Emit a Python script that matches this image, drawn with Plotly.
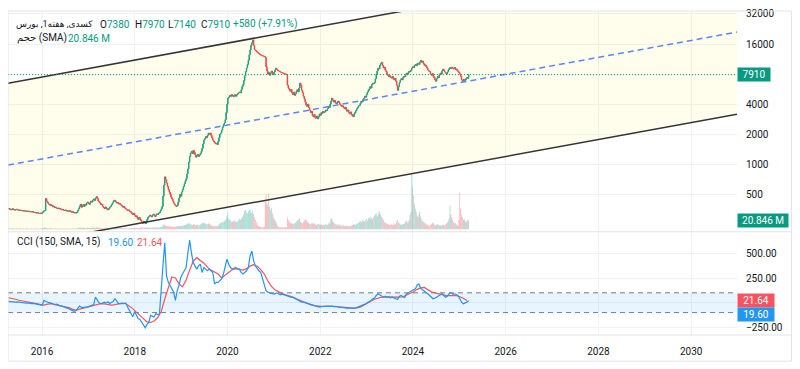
import math
import pandas as pd
import plotly.graph_objects as go

# ---------------- data ----------------
start_date = "2015-04-11"   # first weekly candle

close = [
    362, 355, 358, 350, 352, 360, 354, 348, 351, 356,
    352, 347, 350, 345, 348, 343, 346, 340, 344, 341,
    338, 342, 339, 336, 340, 335, 333, 337, 331, 329,
    332, 327, 325, 328, 324, 322, 326, 323, 330, 335,
    342, 345, 455, 430, 415, 400, 392, 398, 385, 390,
    375, 380, 368, 372, 365, 360, 366, 358, 362, 355,
    350, 356, 348, 345, 350, 342, 346, 340, 338, 344,
    336, 332, 338, 330, 326, 329, 325, 330, 345, 360,
    380, 400, 372, 385, 395, 378, 400, 390, 410, 420,
    405, 398, 415, 430, 420, 440, 450, 435, 460, 475,
    455, 430, 420, 410, 395, 400, 380, 370, 360, 375,
    365, 355, 350, 360, 372, 380, 395, 410, 425, 440,
    430, 420, 410, 415, 400, 405, 395, 388, 380, 372,
    378, 365, 358, 352, 345, 350, 340, 338, 330, 322,
    315, 325, 310, 300, 305, 290, 280, 295, 285, 275,
    265, 258, 270, 262, 255, 268, 280, 295, 300, 310,
    305, 298, 312, 318, 308, 300, 312, 320, 315, 325,
    330, 345, 360, 380, 480, 620, 750, 700, 650, 600,
    560, 530, 500, 470, 450, 430, 410, 395, 385, 380,
    390, 420, 460, 500, 480, 530, 560, 600, 640, 680,
    720, 800, 900, 1050, 1200, 1300, 1350, 1280, 1380, 1320,
    1250, 1180, 1220, 1260, 1200, 1240, 1280, 1350, 1450, 1600,
    1750, 1800, 1900, 1850, 1950, 2050, 2000, 2060, 1950, 1850,
    1750, 1700, 1650, 1600, 1620, 1580, 1700, 1850, 2000, 2060,
    2200, 2350, 2500, 2600, 2800, 3300, 4000, 4600, 4700, 4900,
    4800, 5000, 4900, 4750, 4850, 5000, 4800, 4950, 5100, 5200,
    5300, 5200, 5600, 6000, 6300, 6900, 7700, 8500, 9200, 10000,
    11000, 12500, 14000, 15500, 16500, 17600, 15500, 14000, 13800, 13500,
    13200, 13000, 12800, 12600, 12400, 12300, 12200, 12100, 12000, 11800,
    9500, 8600, 8000, 8300, 7800, 8200, 8600, 8100, 7900, 8400,
    8800, 9200, 8900, 8700, 8600, 8500, 8400, 8300, 8250, 8200,
    8100, 8050, 8000, 7950, 6200, 5800, 5600, 5400, 5600, 5200,
    5000, 5300, 4900, 5100, 5400, 5600, 5300, 5800, 6500, 6200,
    5500, 5200, 4800, 4500, 4200, 3900, 3800, 4000, 3700, 3500,
    3300, 3400, 3100, 3000, 3150, 2950, 2900, 3050, 2850, 3000,
    3200, 3100, 3300, 3250, 3400, 3300, 3350, 3500, 3450, 3600,
    3800, 3700, 4000, 4300, 4600, 4400, 4200, 4350, 4100, 4050,
    4200, 4300, 4150, 4000, 3900, 3800, 3850, 3700, 3600, 3750,
    3550, 3400, 3500, 3300, 3200, 3350, 3150, 3050, 3000, 3200,
    3300, 3450, 3600, 3700, 3850, 3900, 4100, 4300, 4200, 4450,
    4600, 4800, 4700, 5000, 5300, 5500, 5700, 6000, 5800, 6300,
    6500, 6400, 6600, 7200, 8000, 8600, 9200, 9000, 9800, 10200,
    10500, 9800, 9200, 9400, 8800, 8500, 8000, 7800, 7500, 7700,
    7400, 7300, 7600, 7200, 7000, 7300, 6800, 6200, 5500, 6000,
    6600, 7000, 7200, 7000, 7400, 7600, 7500, 7900, 8200, 8000,
    8300, 8600, 8500, 8800, 9200, 9500, 9300, 9800, 10000, 9700,
    10200, 10300, 10000, 10600, 11000, 10500, 10800, 10200, 9800, 9900,
    9500, 9200, 8800, 8600, 8500, 8000, 7800, 8100, 7600, 7400,
    7000, 6800, 7200, 7600, 7400, 7900, 8200, 8000, 8600, 9000,
    8700, 8400, 8200, 8000, 8400, 8800, 9100, 9300, 9100, 9400,
    9200, 9000, 9300, 8900, 9000, 8700, 8500, 8300, 8000, 7600,
    7000, 6800, 7100, 6900, 7000, 7200, 7400, 7330, 7910,
]
last_open, last_high, last_low = 7380, 7970, 7140

volume_m = [
    3, 2, 2.5, 1.5, 2, 3, 2, 1.5, 2, 2.5,
    2, 1.5, 2, 3, 2, 1.5, 2, 2, 1.5, 2,
    2.5, 2, 1.5, 2, 1.5, 2, 2, 1.5, 2, 2,
    1.5, 2, 2, 1.5, 2, 1.5, 2, 2, 2.5, 3,
    3, 5, 4, 3, 2.5, 2, 3, 2, 2.5, 2,
    2, 1.5, 2, 2.5, 2, 1.5, 2, 2, 1.5, 2,
    2, 1.5, 2, 2, 1.5, 2, 1.5, 2, 2, 1.5,
    2, 1.5, 2, 2, 1.5, 1.5, 2, 2, 3, 3,
    4, 4, 3, 3, 4, 3, 3, 2.5, 3, 4,
    3, 2.5, 3, 3.5, 3, 4, 4, 3, 4, 5,
    4, 3.5, 3, 3, 3, 2.5, 3, 2.5, 2.5, 3,
    2.5, 2.5, 2, 2.5, 3, 3, 3.5, 4, 4, 4,
    3.5, 3, 3, 3, 2.5, 3, 2.5, 2.5, 2, 2.5,
    2.5, 2, 2, 2.5, 2, 2.5, 2, 2.5, 3, 3,
    3, 3, 3.5, 3.5, 3, 3.5, 3, 3, 3.5, 3.5,
    4, 4, 3.5, 4, 4, 3.5, 4, 4, 3.5, 4,
    4, 3.5, 4, 4, 3.5, 4, 4, 4.5, 4, 4.5,
    5, 5, 5.5, 6, 9, 12, 10, 9, 8, 8,
    7, 7, 6.5, 6, 6, 5.5, 6, 6, 6.5, 7,
    7, 7.5, 8, 8, 7, 8, 9, 9, 10, 10,
    11, 12, 14, 13, 15, 12, 11, 10, 11, 12,
    10, 9, 10, 11, 9, 10, 11, 12, 14, 16,
    15, 14, 12, 13, 12, 14, 13, 11, 10, 9,
    8, 8, 7, 8, 7, 8, 9, 11, 13, 15,
    16, 18, 17, 19, 21, 24, 30, 38, 25, 22,
    20, 18, 19, 17, 20, 21, 18, 17, 19, 22,
    25, 22, 24, 28, 32, 36, 44, 46, 40, 37,
    42, 45, 46, 40, 38, 44, 36, 28, 22, 18,
    10, 8, 7, 6, 6, 5, 5, 5, 6, 64,
    81, 60, 55, 84, 53, 46, 50, 38, 30, 26,
    22, 18, 14, 8, 6, 5, 5, 4, 4, 4,
    4, 4, 5, 5, 28, 22, 18, 16, 14, 15,
    13, 12, 14, 16, 18, 22, 20, 24, 26, 18,
    16, 14, 18, 20, 22, 24, 19, 16, 14, 13,
    12, 14, 15, 13, 12, 14, 11, 10, 12, 13,
    11, 10, 12, 10, 9, 11, 10, 12, 11, 10,
    14, 12, 18, 24, 26, 20, 16, 14, 12, 11,
    10, 12, 11, 9, 10, 8, 9, 10, 8, 9,
    8, 7, 9, 8, 7, 8, 9, 10, 11, 12,
    11, 10, 13, 15, 14, 18, 20, 16, 19, 22,
    20, 18, 22, 24, 20, 26, 28, 24, 30, 26,
    24, 28, 32, 36, 38, 30, 34, 42, 40, 35,
    30, 26, 22, 18, 16, 14, 12, 13, 11, 10,
    12, 11, 10, 12, 14, 10, 13, 18, 22, 16,
    14, 12, 10, 11, 13, 12, 14, 18, 20, 16,
    18, 22, 35, 40, 130, 100, 80, 60, 49, 40,
    32, 28, 35, 42, 30, 24, 20, 18, 16, 14,
    12, 10, 11, 9, 8, 10, 12, 14, 16, 12,
    10, 9, 11, 12, 10, 9, 10, 8, 9, 11,
    10, 9, 12, 14, 16, 20, 26, 56, 35, 28,
    22, 18, 15, 14, 12, 10, 8, 22, 86, 49,
    35, 28, 22, 25, 18, 20, 16, 22, 20.846,
]

# CCI(150) read every 2 weeks, its SMA(15) read every 4 weeks
cci = [
    13, 10, 8, 6, 5, 8, 4, 2, 0, -3,
    -5, -2, -8, -10, -6, -12, -15, -18, -22, -27,
    23, 15, 5, 0, -5, -10, -18, -15, -25, -30,
    -35, -40, -45, -55, -60, -70, -78, -87, -80, -50,
    -34, -45, -50, -44, -48, -40, -35, -30, -20, 56,
    20, 0, -10, -5, 5, -2, 10, -8, 0, 15,
    40, 10, -10, -8, -12, -10, -5, -40, -60, -100,
    -144, -90, -130, -160, -170, -200, -230, -254, -220, -200,
    -127, -140, -144, -110, -120, -115, 173, 380, 606, 270,
    206, 173, 140, 106, 23, 123, 173, 256, 290, 323,
    356, 506, 633, 506, 406, 373, 340, 373, 390, 306,
    356, 340, 323, 340, 323, 306, 190, 206, 206, 223,
    240, 290, 356, 440, 390, 356, 340, 346, 356, 340,
    340, 306, 290, 306, 323, 356, 473, 523, 423, 373,
    340, 323, 306, 240, 173, 123, 106, 100, 90, 90,
    90, 100, 90, 80, 86, 80, 73, 66, 63, 56,
    56, 46, 40, 23, 16, 6, 6, 0, -4, -10,
    -17, -27, -34, -37, -44, -44, -40, -37, -34, -34,
    -34, -37, -34, -40, -37, -40, -44, -44, -47, -50,
    -54, -54, -60, -60, -57, -54, -50, -44, -40, -34,
    -20, -10, 0, 13, 23, 40, 46, 73, 90, 80,
    63, 56, 66, 53, 60, 50, 56, 46, 40, 33,
    66, 73, 60, 53, 90, 100, 106, 113, 123, 140,
    180, 190, 146, 133, 123, 106, 90, 73, 56, 40,
    46, 56, 66, 80, 90, 73, 56, 66, 90, 100,
    86, 90, 80, 73, 40, 6, -10, -4, 6, 19.60,
]
cci_ma = [
    50, 45, 35, 25, 18, 10, 5, -4, -10, -22,
    -25, -15, -10, -20, -27, -35, -42, -50, -65, -77,
    -65, -55, -45, -35, -27, -15, -10, -12, -18, -25,
    -20, -10, -5, -8, -30, -60, -95, -127, -165, -195,
    -200, -185, -150, -90, 40, 160, 260, 250, 190, 160,
    230, 330, 420, 456, 430, 400, 360, 330, 310, 290,
    250, 280, 310, 335, 345, 340, 330, 345, 370, 385,
    370, 335, 290, 220, 165, 130, 110, 92, 80, 70,
    56, 40, 25, 5, -8, -20, -30, -35, -37, -37,
    -36, -35, -38, -42, -46, -50, -54, -55, -52, -45,
    -25, -5, 20, 35, 45, 56, 58, 56, 55, 55,
    56, 60, 75, 95, 110, 135, 150, 155, 130, 110,
    100, 90, 80, 75, 72, 73, 73, 60, 45, 21.64,
]
cci_band = [-100, 100]

# regression channel endpoints
chan_dates = ["2015-04-08", "2030-12-28"]
chan_upper = [6500, 139500]
chan_mid = [983, 21090]
chan_lower = [148, 3170]

x_range = ["2015-04-08", "2030-12-28"]
price_ticks = [500, 1000, 2000, 4000, 8000, 16000, 32000]
cci_ticks = [-250, 0, 250, 500]

title_text = "کسدی, هفته1, بورس"
vol_title = "حجم (SMA)"
cci_title = "CCI (150, SMA, 15)"

# ---------------- styles ----------------
TEAL = "#089981"
RED = "#f23645"
DARK = "#131722"
BLUE = "#2196f3"
MARED = "#f7525f"
GRID = "#eff1f5"
FONT = "Roboto, 'Liberation Sans', 'DejaVu Sans', sans-serif"

# the page body adds an 8px offset; screen coords below are for the photo
OFF = 8
W, H = 800 - OFF, 369 - OFF
PL, PR, PT, PB = 8, 737, 8, 335          # plot area in screen pixels
ML, MT = PL - OFF, PT - OFF
MR, MB = W - (PR - OFF), H - (PB - OFF)


def fx(px):
    return (px - PL) / (PR - PL)


def fy(py):
    return (PB - py) / (PB - PT)


# ---------------- derived series ----------------
dates = pd.date_range(start_date, periods=len(close), freq="7D")
opens = [close[0]] + close[:-1]
opens[-1] = last_open
highs = [max(o, c) for o, c in zip(opens, close)]
lows = [min(o, c) for o, c in zip(opens, close)]
highs[-1] = last_high
lows[-1] = last_low
vol_colors = ["rgba(8,153,129,0.45)" if c >= o else "rgba(242,54,69,0.45)"
              for o, c in zip(opens, close)]
cci_dates = dates[::2][:len(cci)]
ma_dates = dates[::4][:len(cci_ma)]

fig = go.Figure()

# channel fill
fig.add_trace(go.Scatter(
    x=chan_dates + chan_dates[::-1], y=chan_upper + chan_lower[::-1],
    fill="toself", fillcolor="rgba(255,235,59,0.10)", mode="none",
    xaxis="x", yaxis="y", hoverinfo="skip"))
for ys in (chan_upper, chan_lower):
    fig.add_trace(go.Scatter(x=chan_dates, y=ys, mode="lines",
                             line=dict(color="rgba(30,30,30,0.9)", width=1.5),
                             xaxis="x", yaxis="y", hoverinfo="skip"))
fig.add_trace(go.Scatter(x=chan_dates, y=chan_mid, mode="lines",
                         line=dict(color="#5b86f5", width=1.5, dash="6px,4px"),
                         xaxis="x", yaxis="y", hoverinfo="skip"))
# last price line
fig.add_trace(go.Scatter(x=x_range, y=[close[-1], close[-1]], mode="lines",
                         line=dict(color=TEAL, width=1, dash="1px,2px"),
                         xaxis="x", yaxis="y", hoverinfo="skip"))
# candles
fig.add_trace(go.Candlestick(
    x=dates, open=opens, high=highs, low=lows, close=close,
    increasing=dict(line=dict(color=TEAL, width=1), fillcolor=TEAL),
    decreasing=dict(line=dict(color=RED, width=1), fillcolor=RED),
    whiskerwidth=0, xaxis="x", yaxis="y", hoverinfo="skip"))
# volume
fig.add_trace(go.Bar(x=dates, y=volume_m, marker=dict(color=vol_colors, line=dict(width=0)),
                     xaxis="x", yaxis="y3", hoverinfo="skip"))

# CCI pane
fig.add_trace(go.Scatter(x=x_range + x_range[::-1],
                         y=[cci_band[1], cci_band[1], cci_band[0], cci_band[0]],
                         fill="toself", fillcolor="rgba(33,150,243,0.10)", mode="none",
                         xaxis="x", yaxis="y2", hoverinfo="skip"))
for lvl in cci_band:
    fig.add_trace(go.Scatter(x=x_range, y=[lvl, lvl], mode="lines",
                             line=dict(color="#787b86", width=1, dash="5px,4px"),
                             xaxis="x", yaxis="y2", hoverinfo="skip"))
fig.add_trace(go.Scatter(x=ma_dates, y=cci_ma, mode="lines",
                         line=dict(color=MARED, width=1.2),
                         xaxis="x", yaxis="y2", hoverinfo="skip"))
fig.add_trace(go.Scatter(x=cci_dates, y=cci, mode="lines",
                         line=dict(color=BLUE, width=1.2),
                         xaxis="x", yaxis="y2", hoverinfo="skip"))

# ---------------- axes ----------------
p_lo = math.log10(32000) - (230 - 10) / 30.45 * math.log10(2)
p_hi = math.log10(32000) + (10 - 8) / 30.45 * math.log10(2)
px_per_m = 20.846 / 9.0
v_lo = -2 * px_per_m
v_hi = 220 * px_per_m

fig.update_layout(
    width=W, height=H, margin=dict(l=ML, r=MR, t=MT, b=MB, pad=0),
    paper_bgcolor="white", plot_bgcolor="white", showlegend=False,
    hovermode=False, bargap=0.3, font=dict(family=FONT, size=10, color=DARK),
    xaxis=dict(type="date", range=x_range, anchor="y2", domain=[0, 1],
               tick0="2016-01-01", dtick="M24", tickformat="%Y",
               showgrid=True, gridcolor=GRID, gridwidth=1, zeroline=False,
               showline=False, ticks="", ticklabelstandoff=9,
               rangeslider=dict(visible=False),
               tickfont=dict(size=10, color=DARK)),
    yaxis=dict(type="log", range=[p_lo, p_hi], domain=[fy(230), 1], side="right",
               tickvals=price_ticks,
               ticktext=["" if v == 8000 else str(v) for v in price_ticks],
               showgrid=True, gridcolor=GRID, zeroline=False, ticks="",
               ticklabeloverflow="allow",
               ticklabelstandoff=8, tickfont=dict(size=10, color=DARK), anchor="x"),
    yaxis3=dict(range=[v_lo, v_hi], overlaying="y", visible=False, anchor="x"),
    yaxis2=dict(range=[-327, 713], domain=[0, fy(231)], side="right",
                tickvals=cci_ticks,
                ticktext=["" if v == 0 else f"{v:.2f}".replace("-", "\u2212") for v in cci_ticks],
                showgrid=True, gridcolor=GRID, zeroline=False, ticks="",
                ticklabelstandoff=8, tickfont=dict(size=10, color=DARK), anchor="x"),
)

# ---------------- frame ----------------
frame = "#e0e3eb"
fig.add_shape(type="rect", xref="paper", yref="paper", x0=fx(8), x1=fx(791.5),
              y0=fy(361.5), y1=fy(7), line=dict(color=frame, width=1))
fig.add_shape(type="line", xref="paper", yref="paper", x0=fx(8), x1=fx(791.5),
              y0=fy(230.5), y1=fy(230.5), line=dict(color=frame, width=1))
fig.add_shape(type="line", xref="paper", yref="paper", x0=fx(8), x1=fx(791.5),
              y0=fy(335), y1=fy(335), line=dict(color=frame, width=1))

# ---------------- text ----------------
anns = []


def txt(px, py, text, color, size=10):
    anns.append(dict(xref="paper", yref="paper", x=fx(px), y=fy(py), text=text,
                     showarrow=False, xanchor="left", yanchor="middle",
                     font=dict(size=size, color=color, family=FONT)))


txt(14, 20.5, title_text, DARK, size=9)
ohlc = [("O", opens[-1]), ("H", highs[-1]), ("L", lows[-1]), ("C", close[-1])]
for xpos, (lab, val) in zip([98, 132.5, 166, 199], ohlc):
    txt(xpos, 20.5, f"<span style='color:{DARK}'>{lab}</span>{val}", TEAL)
chg = close[-1] - close[-2]
txt(231, 20.5, f"{chg:+d} ({chg / close[-2] * 100:+.2f}%)", TEAL)
txt(15, 34.5, vol_title, DARK)
txt(66, 34.5, f"{volume_m[-1]:.3f}\u00a0M", TEAL)
txt(15, 241, cci_title, DARK)
txt(106, 241, f"{cci[-1]:.2f}", BLUE)
txt(135, 241, f"{cci_ma[-1]:.2f}", MARED)


def tag(yref, y, text, bg, width, yshift=0):
    anns.append(dict(xref="paper", yref=yref, x=1, y=y, text=text, showarrow=False,
                     xanchor="left", yanchor="middle", bgcolor=bg, borderpad=1,
                     width=width, height=11, yshift=yshift, align="center",
                     font=dict(size=10, color="white", family=FONT)))


tag("y", math.log10(close[-1]), str(close[-1]), TEAL, 30)
tag("y3", volume_m[-1], f"{volume_m[-1]:.3f}\u00a0M", TEAL, 48)
tag("y2", cci_ma[-1], f"{cci_ma[-1]:.2f}", MARED, 34)
tag("y2", cci[-1], f"{cci[-1]:.2f}", BLUE, 34, yshift=-14)

fig.update_layout(annotations=anns)
fig.write_html("out.html")
